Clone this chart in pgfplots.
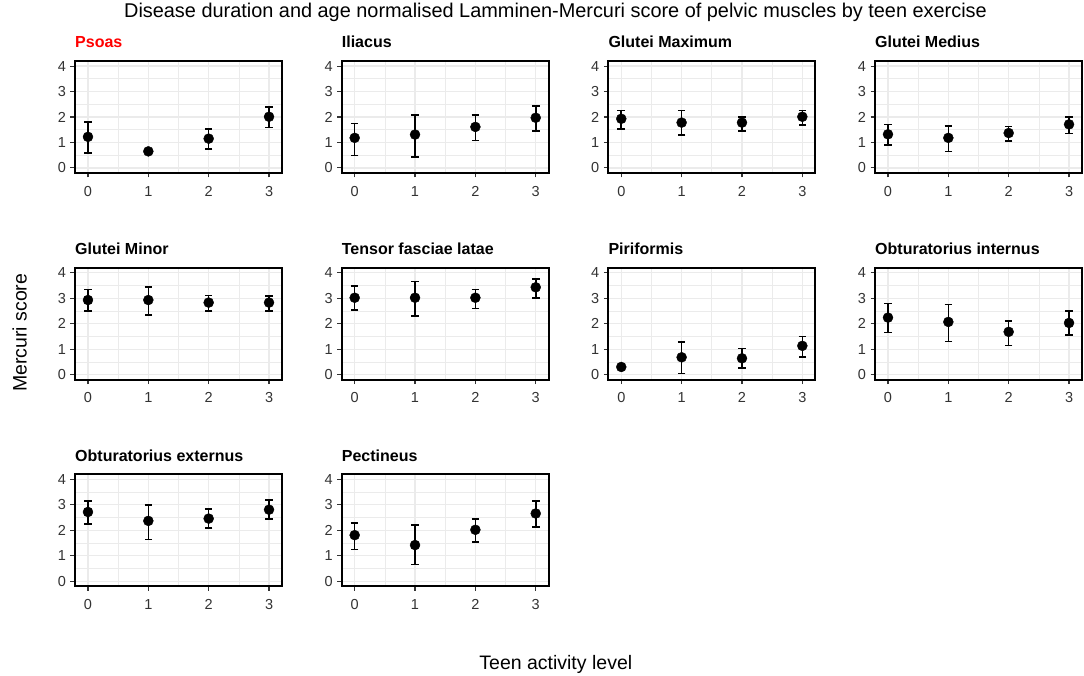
\documentclass[border=0pt]{standalone}
\usepackage{fontspec}
\setmainfont{Liberation Sans}
\usepackage{pgfplots}
\usepackage{pgfplotstable}
\pgfplotsset{compat=1.18}
\definecolor{gridc}{HTML}{EBEBEB}
\definecolor{tickc}{HTML}{333333}
\definecolor{ggred}{HTML}{FF0000}

% x  y  lo  hi
\pgfplotstableread{
x y lo hi
0 1.22 0.59 1.80
1 0.65 0.60 0.71
2 1.15 0.75 1.54
3 2.01 1.58 2.39
}\psoas
\pgfplotstableread{
x y lo hi
0 1.18 0.48 1.74
1 1.31 0.44 2.09
2 1.61 1.08 2.09
3 1.97 1.45 2.44
}\iliacus
\pgfplotstableread{
x y lo hi
0 1.93 1.53 2.26
1 1.78 1.29 2.25
2 1.78 1.45 2.00
3 2.01 1.69 2.25
}\gmax
\pgfplotstableread{
x y lo hi
0 1.32 0.89 1.70
1 1.18 0.64 1.65
2 1.37 1.05 1.63
3 1.71 1.35 2.00
}\gmed
\pgfplotstableread{
x y lo hi
0 2.93 2.50 3.35
1 2.93 2.35 3.45
2 2.83 2.49 3.10
3 2.83 2.49 3.09
}\gmin
\pgfplotstableread{
x y lo hi
0 3.02 2.54 3.49
1 3.02 2.31 3.65
2 3.02 2.59 3.35
3 3.43 3.00 3.75
}\tensor
\pgfplotstableread{
x y lo hi
0 0.30 0.24 0.36
1 0.68 0.04 1.29
2 0.64 0.25 1.02
3 1.13 0.70 1.50
}\pirif
\pgfplotstableread{
x y lo hi
0 2.24 1.65 2.80
1 2.07 1.30 2.75
2 1.68 1.15 2.11
3 2.03 1.56 2.51
}\obtint
\pgfplotstableread{
x y lo hi
0 2.72 2.25 3.14
1 2.37 1.64 3.00
2 2.46 2.08 2.84
3 2.81 2.44 3.19
}\obtext
\pgfplotstableread{
x y lo hi
0 1.81 1.25 2.29
1 1.42 0.65 2.20
2 2.02 1.54 2.44
3 2.66 2.14 3.15
}\pect

\pgfplotsset{
  panel/.style={
    scale only axis, width=207pt, height=112pt,
    anchor=north west,
    xmin=-0.215, xmax=3.215, ymin=-0.2, ymax=4.2,
    xtick={0,1,2,3}, ytick={0,1,2,3,4},
    minor xtick={0.5,1.5,2.5}, minor ytick={0.5,1.5,2.5,3.5},
    grid=both,
    major grid style={draw=gridc, line width=1.3pt},
    minor grid style={draw=gridc, line width=0.65pt},
    axis line style={draw=none},
    tick align=outside, tick pos=left,
    major tick length=4.5pt, minor tick length=0pt,
    tick style={draw=tickc, line width=1.1pt},
    /pgf/number format/assume math mode=true,
    ticklabel style={font=\fontsize{14.5}{14.5}\selectfont, text=tickc},
    xticklabel style={yshift=-5pt},
    yticklabel style={xshift=-1pt},
    clip=false,
  },
}

\newcommand{\panel}[5]{%
  \begin{axis}[panel, at={(#1pt,-#2pt)}]
    \addplot[only marks, mark=*, mark size=5pt, black,
      error bars/.cd, y dir=both, y explicit,
      error bar style={line width=1.6pt, black},
      error mark options={rotate=90, mark size=3.8pt, line width=1.6pt, black}]
      table[x=x, y=y, y error plus expr=\thisrow{hi}-\thisrow{y},
            y error minus expr=\thisrow{y}-\thisrow{lo}] {#4};
    \draw[black, line width=1.7pt] (rel axis cs:0,0) rectangle (rel axis cs:1,1);
  \end{axis}
  \node[anchor=base west, inner sep=0pt, text=#5,
        font=\fontsize{16}{16}\selectfont\bfseries] at (#1pt, {13.3pt-#2pt}) {#3};
}

\begin{document}
\begin{tikzpicture}
\useasboundingbox (0,0) rectangle (1084pt,-676pt);
\fill[white] (0,0) rectangle (1084pt,-676pt);

\panel{75}{61}{Psoas}{\psoas}{ggred}
\panel{341.7}{61}{Iliacus}{\iliacus}{black}
\panel{608.3}{61}{Glutei Maximum}{\gmax}{black}
\panel{875}{61}{Glutei Medius}{\gmed}{black}

\panel{75}{267.7}{Glutei Minor}{\gmin}{black}
\panel{341.7}{267.7}{Tensor fasciae latae}{\tensor}{black}
\panel{608.3}{267.7}{Piriformis}{\pirif}{black}
\panel{875}{267.7}{Obturatorius internus}{\obtint}{black}

\panel{75}{474.3}{Obturatorius externus}{\obtext}{black}
\panel{341.7}{474.3}{Pectineus}{\pect}{black}

\node[anchor=base, inner sep=0pt, font=\fontsize{19.9}{19.9}\selectfont]
  at (555.5pt,-17.7pt) {Disease duration and age normalised Lamminen-Mercuri score of pelvic muscles by teen exercise};
\node[anchor=base, inner sep=0pt, font=\fontsize{19.5}{19.5}\selectfont]
  at (555.8pt,-669pt) {Teen activity level};
\node[rotate=90, anchor=center, inner sep=0pt, font=\fontsize{19.5}{19.5}\selectfont]
  at (19.7pt,-332.7pt) {Mercuri score};
\end{tikzpicture}
\end{document}
